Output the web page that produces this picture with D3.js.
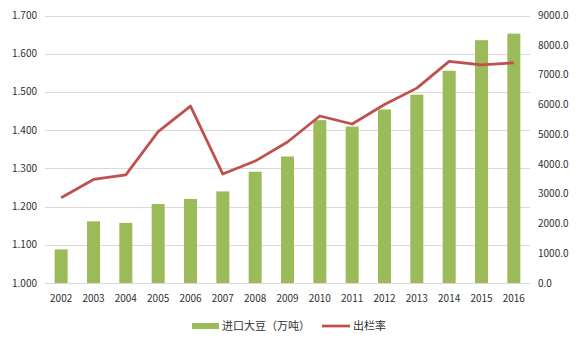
<!DOCTYPE html>
<html><head><meta charset="utf-8">
<script src="https://cdn.jsdelivr.net/npm/d3@7"></script>
<style>
html,body{margin:0;padding:0;background:#fff;}
svg{display:block;font-family:"Noto Sans CJK SC","Microsoft YaHei",sans-serif;}
</style></head>
<body>
<svg id="c" width="581" height="345"></svg>
<script>
const years = ["2002","2003","2004","2005","2006","2007","2008","2009","2010","2011","2012","2013","2014","2015","2016"];
const soyImports = [1131,2074,2023,2659,2827,3082,3744,4255,5480,5264,5838,6338,7140,8169,8391];
const slaughterRate = [1.223,1.271,1.283,1.396,1.463,1.285,1.319,1.369,1.437,1.416,1.467,1.510,1.580,1.571,1.576];
const leftTicks = [1.0,1.1,1.2,1.3,1.4,1.5,1.6,1.7];
const rightTicks = [0,1000,2000,3000,4000,5000,6000,7000,8000,9000];
const seriesNames = ["进口大豆（万吨）","出栏率"];

const svg = d3.select("#c");
const L = 45, R = 530, T = 15.5, B = 283;
const xc = d3.scaleBand().domain(years).range([L, R]);
const yL = d3.scaleLinear().domain([1.0, 1.7]).range([B, T]);
const yR = d3.scaleLinear().domain([0, 9000]).range([B, T]);
const txt = "#303030";

// gridlines
svg.append("g").selectAll("line").data(leftTicks).join("line")
  .attr("x1", L).attr("x2", R)
  .attr("y1", d => Math.round(yL(d)) + 0.5).attr("y2", d => Math.round(yL(d)) + 0.5)
  .attr("stroke", "#d9d9d9").attr("stroke-width", 1);

// left axis labels
svg.append("g").selectAll("text").data(leftTicks).join("text")
  .attr("x", 37).attr("y", d => yL(d)).attr("dy", "0.35em")
  .attr("text-anchor", "end").attr("font-size", 10).attr("fill", txt)
  .text(d => d3.format(".3f")(d));

// right axis labels
svg.append("g").selectAll("text").data(rightTicks).join("text")
  .attr("x", 538).attr("y", d => yR(d)).attr("dy", "0.35em")
  .attr("text-anchor", "start").attr("font-size", 10).attr("fill", txt)
  .text(d => d3.format(".1f")(d));

// bars
const bw = 13;
svg.append("g").selectAll("rect").data(years).join("rect")
  .attr("x", d => xc(d) + xc.bandwidth()/2 - bw/2)
  .attr("width", bw)
  .attr("y", (d,i) => yR(soyImports[i]))
  .attr("height", (d,i) => B - yR(soyImports[i]))
  .attr("fill", "#9bbb59");

// line
const line = d3.line().x((d,i) => xc(years[i]) + xc.bandwidth()/2).y(d => yL(d));
svg.append("path").datum(slaughterRate).attr("d", line)
  .attr("fill", "none").attr("stroke", "#c0504d").attr("stroke-width", 2.75)
  .attr("stroke-linejoin", "round");

// x labels
svg.append("g").selectAll("text").data(years).join("text")
  .attr("x", d => xc(d) + xc.bandwidth()/2).attr("y", 298).attr("dy", "0.35em")
  .attr("text-anchor", "middle").attr("font-size", 10).attr("fill", txt)
  .text(d => d);

// legend
const lg = svg.append("g");
lg.append("rect").attr("x", 192).attr("y", 323).attr("width", 27).attr("height", 6).attr("fill", "#9bbb59");
lg.append("text").attr("x", 222).attr("y", 326).attr("dy", "0.35em").attr("font-size", 11).attr("fill", txt).text(seriesNames[0]);
lg.append("line").attr("x1", 322).attr("x2", 350).attr("y1", 326).attr("y2", 326).attr("stroke", "#c0504d").attr("stroke-width", 2.75);
lg.append("text").attr("x", 353).attr("y", 326).attr("dy", "0.35em").attr("font-size", 11).attr("fill", txt).text(seriesNames[1]);
</script>
</body></html>
